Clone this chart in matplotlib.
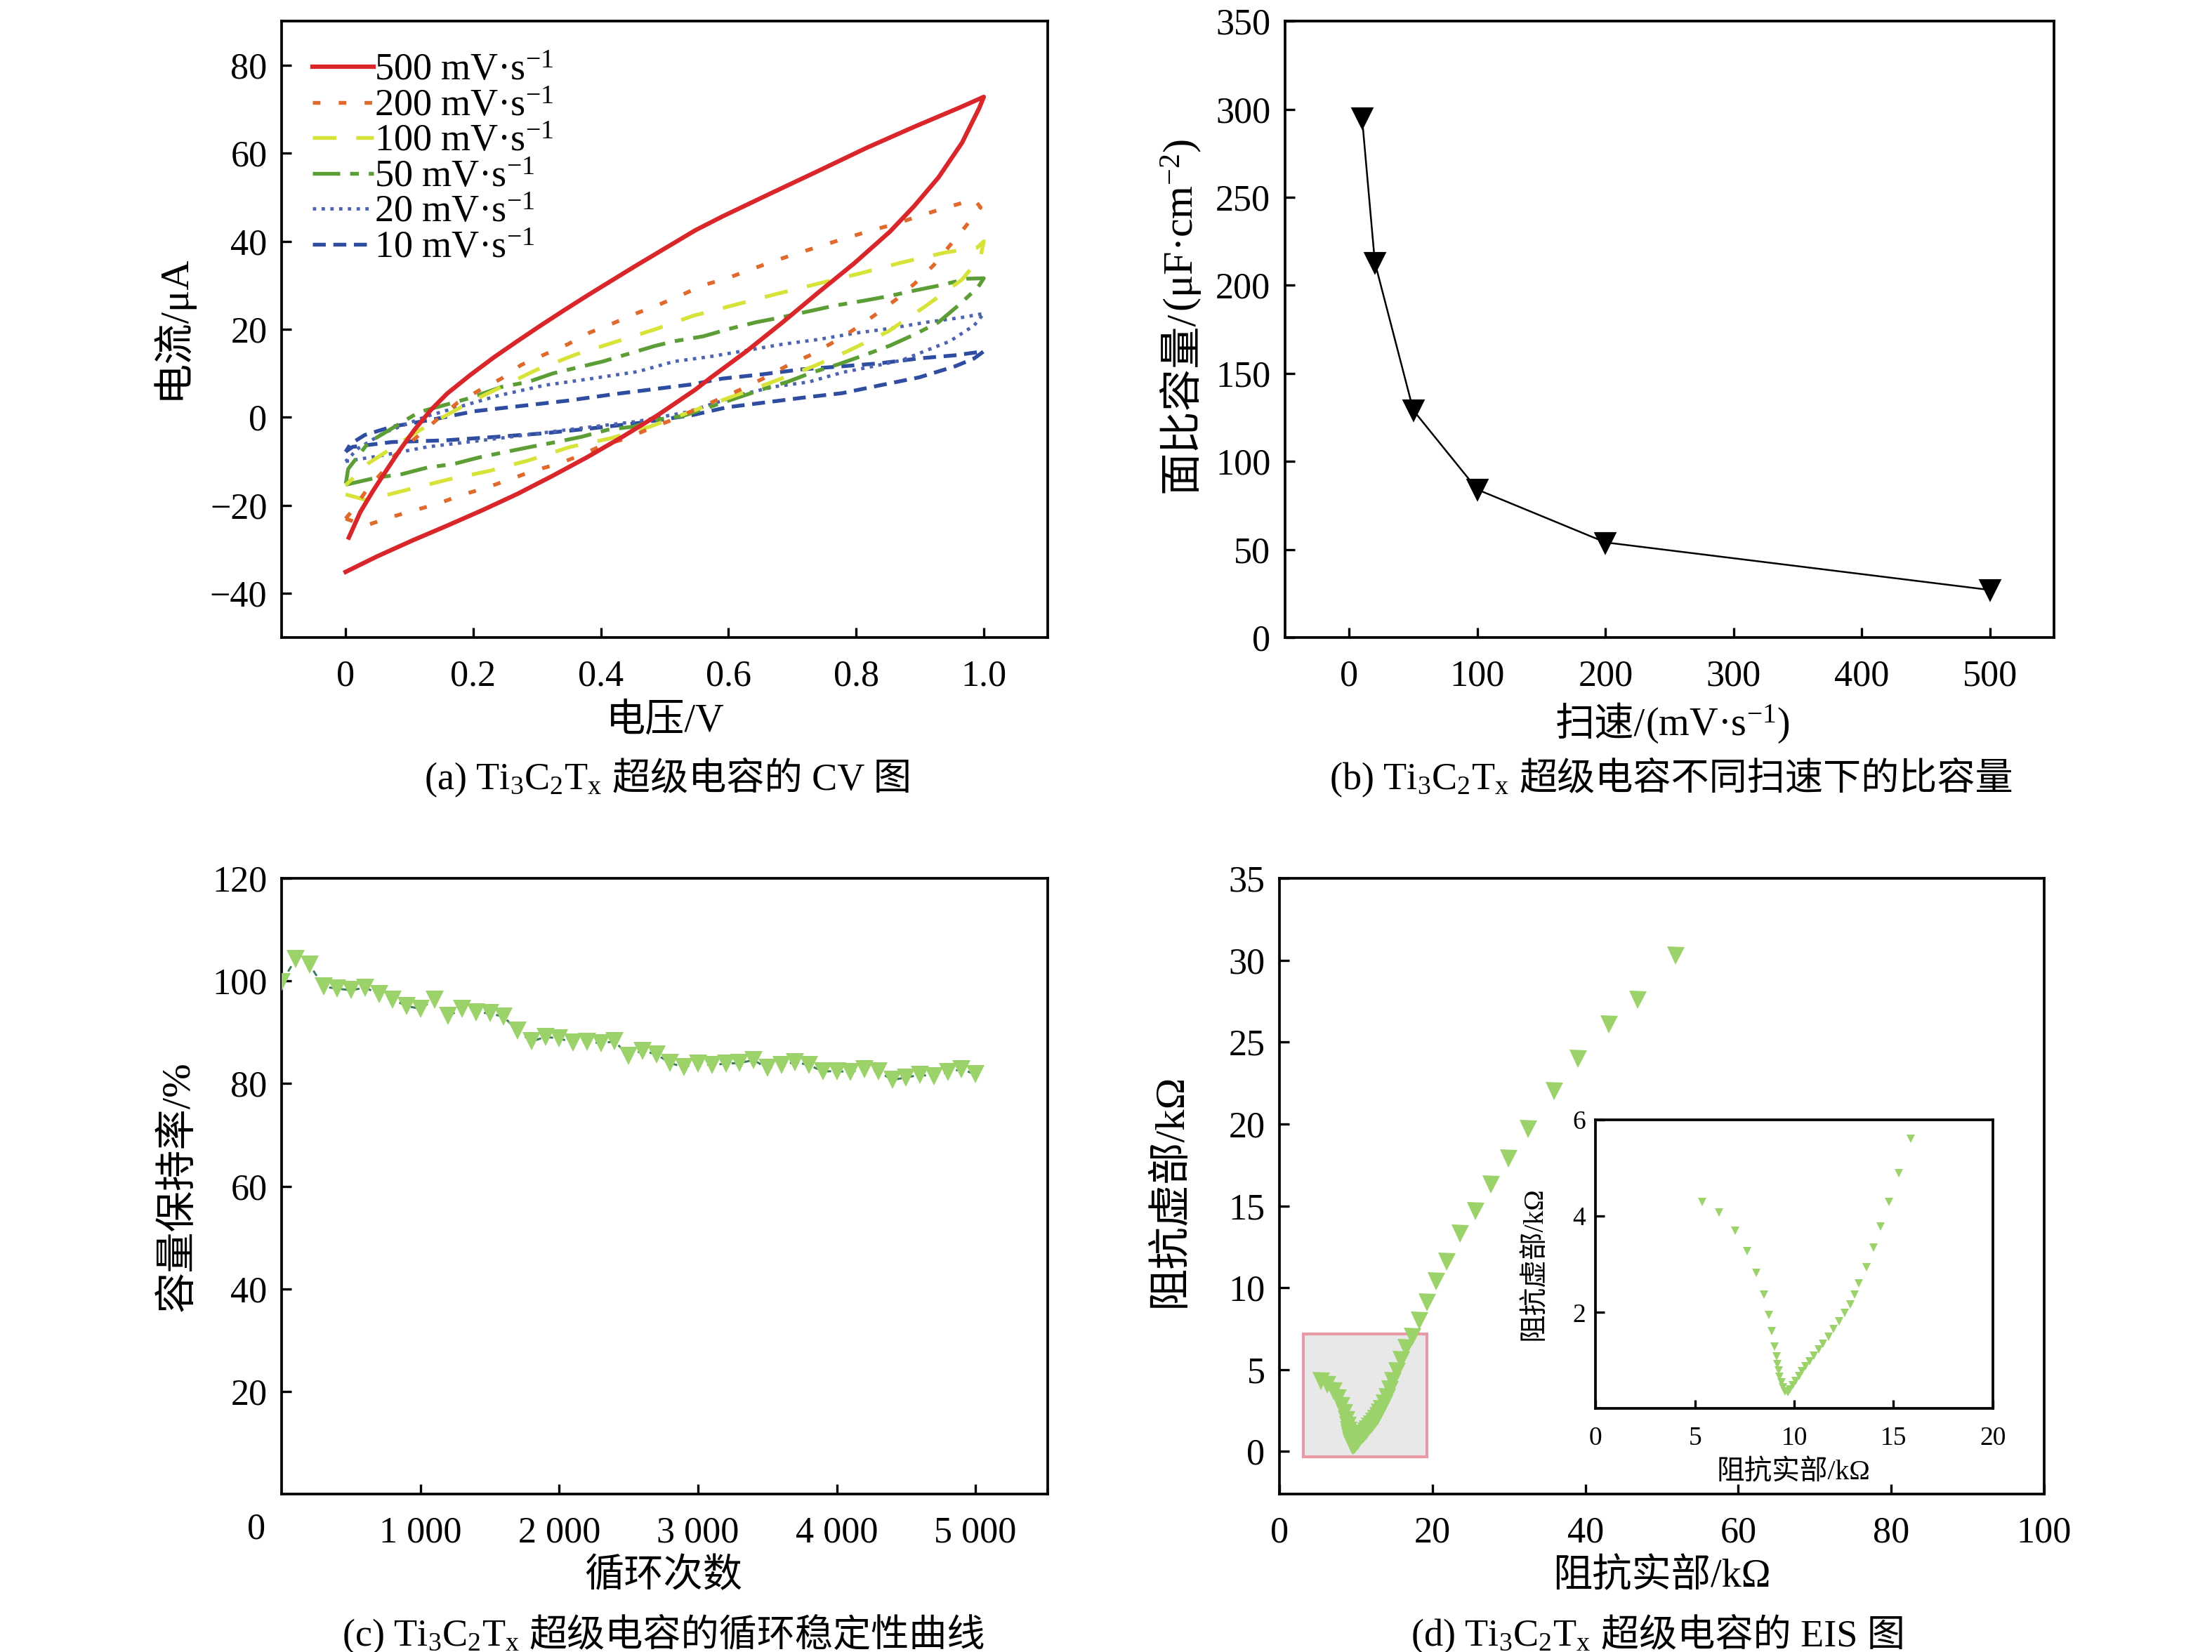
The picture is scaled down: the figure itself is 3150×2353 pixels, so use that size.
import matplotlib
matplotlib.use('Agg')
import matplotlib.pyplot as plt
from matplotlib.patches import Rectangle
from matplotlib.ticker import FixedLocator, FixedFormatter

# ---------------- data ----------------
# (a) CV curves: forward (lower) branch then reverse (upper) branch
cv_labels = ['500 mV·s$^{-1}$', '200 mV·s$^{-1}$', '100 mV·s$^{-1}$',
             '50 mV·s$^{-1}$', '20 mV·s$^{-1}$', '10 mV·s$^{-1}$']
cv500_x = [0.0, 0.049, 0.104, 0.159, 0.214, 0.269, 0.324, 0.379, 0.434, 0.489, 0.548, 0.571,
           0.628, 0.684, 0.741, 0.797, 0.853, 0.891, 0.929, 0.966, 0.993, 1.0,
           0.966, 0.891, 0.816, 0.741, 0.665, 0.590, 0.548, 0.489, 0.452, 0.416, 0.379, 0.342,
           0.306, 0.269, 0.232, 0.196, 0.159, 0.133, 0.108, 0.086, 0.064, 0.042, 0.023, 0.005]
cv500_y = [-35.1, -31.6, -28.0, -24.6, -21.1, -17.4, -13.3, -9.0, -4.4, 0.5, 6.3, 8.9,
           15.0, 21.5, 28.4, 35.0, 42.2, 48.0, 54.5, 62.4, 70.3, 72.8,
           70.6, 66.0, 61.2, 56.0, 50.8, 45.6, 42.5, 37.4, 34.2, 31.0, 27.7, 24.3,
           20.9, 17.3, 13.6, 9.7, 5.4, 1.6, -2.8, -7.2, -12.0, -16.9, -21.5, -27.3]
cv200_x = [0.0, 0.031, 0.070, 0.108, 0.145, 0.182, 0.218, 0.257, 0.293, 0.332, 0.367, 0.403,
           0.440, 0.477, 0.513, 0.617, 0.654, 0.690, 0.726, 0.761, 0.795, 0.829, 0.861, 0.891,
           0.921, 0.970, 0.995,
           0.985, 0.940, 0.902, 0.865, 0.825, 0.788, 0.748, 0.711, 0.673, 0.635, 0.598, 0.560,
           0.528, 0.491, 0.455, 0.418, 0.383, 0.348, 0.312, 0.275, 0.244, 0.209, 0.176, 0.143,
           0.112, 0.077, 0.059, 0.033, 0.011, 0.0]
cv200_y = [-23.0, -24.6, -22.7, -21.1, -19.6, -17.6, -16.1, -14.1, -12.2, -10.6, -8.7, -6.3,
           -4.8, -2.5, -0.5, 6.2, 8.8, 11.6, 14.0, 16.8, 19.8, 23.2, 26.6, 30.3,
           34.5, 43.1, 47.7,
           49.5, 47.6, 45.9, 44.1, 42.5, 40.9, 39.1, 37.4, 35.6, 33.6, 31.6, 30.0,
           27.9, 25.6, 23.6, 21.3, 19.3, 16.6, 14.3, 11.9, 8.8, 6.1, 3.4, -0.5,
           -4.4, -8.6, -12.2, -16.5, -21.1, -23.0]
cv100_x = [0.0, 0.033, 0.095, 0.161, 0.224, 0.286, 0.352, 0.414, 0.477, 0.535, 0.669, 0.733,
           0.789, 0.850, 0.908, 0.966, 0.995, 1.0,
           0.99, 0.938, 0.872, 0.806, 0.741, 0.677, 0.611, 0.545, 0.487, 0.424, 0.361, 0.299,
           0.238, 0.195, 0.115, 0.036, 0.0]
cv100_y = [-17.5, -18.8, -16.5, -14.1, -12.2, -9.8, -6.7, -4.8, -2.1, 1.0, 8.05, 11.6,
           15.2, 19.5, 25.2, 31.3, 36.5, 40.0,
           38.6, 37.4, 35.2, 32.7, 30.4, 28.1, 25.6, 23.1, 20.1, 17.2, 14.3, 10.8,
           6.5, 3.5, -3.0, -10.4, -15.4]
cv50_x = [0.0, 0.048, 0.088, 0.128, 0.169, 0.209, 0.249, 0.290, 0.330, 0.370, 0.411, 0.451,
          0.488, 0.528, 0.658, 0.692, 0.731, 0.771, 0.812, 0.853, 0.891, 0.929, 0.964, 0.991, 1.0,
          0.974, 0.932, 0.891, 0.850, 0.808, 0.767, 0.726, 0.682, 0.643, 0.601, 0.560, 0.515,
          0.484, 0.403, 0.325, 0.286, 0.244, 0.195, 0.115, 0.036, 0.004, 0.0]
cv50_y = [-15.3, -13.7, -12.9, -11.4, -10.6, -9.1, -7.9, -6.7, -5.6, -4.4, -2.8, -2.1,
          -0.5, 0.3, 6.6, 8.05, 10.2, 12.0, 14.1, 16.3, 18.8, 21.6, 25.9, 29.6, 31.6,
          31.5, 30.0, 28.8, 27.5, 26.4, 25.4, 24.1, 22.7, 21.6, 20.1, 18.4, 17.3,
          16.2, 12.7, 10.0, 8.05, 6.9, 4.4, 1.2, -5.7, -11.7, -15.3]
cv20_x = [0.0, 0.055, 0.128, 0.238, 0.348, 0.458, 0.535, 0.620, 0.673, 0.726, 0.778, 0.827,
          0.872, 0.910, 0.947, 0.985, 1.0,
          0.966, 0.910, 0.853, 0.797, 0.741, 0.684, 0.628, 0.571, 0.515, 0.458, 0.385, 0.312,
          0.238, 0.128, 0.06, 0.02, 0.0]
cv20_y = [-10.0, -8.7, -6.7, -4.8, -2.8, -0.9, 1.2, 5.2, 7.0, 8.05, 10.2, 11.6,
          13.0, 15.2, 17.3, 20.9, 23.6,
          22.7, 21.6, 20.2, 19.1, 17.7, 16.6, 15.2, 13.8, 12.7, 10.4, 8.8, 7.3,
          4.9, 0.3, -3.5, -7.0, -10.0]
cv10_x = [0.0, 0.011, 0.073, 0.158, 0.238, 0.312, 0.385, 0.458, 0.543, 0.598, 0.658, 0.718,
          0.778, 0.838, 0.899, 0.955, 0.985, 1.0,
          0.955, 0.899, 0.838, 0.778, 0.714, 0.654, 0.590, 0.543, 0.488, 0.422, 0.348, 0.275,
          0.202, 0.136, 0.073, 0.03, 0.008, 0.0]
cv10_y = [-7.8, -6.7, -5.6, -5.2, -4.4, -3.6, -2.5, -1.3, 0.5, 2.3, 3.4, 4.5,
          5.5, 7.3, 9.1, 11.6, 13.4, 15.0,
          14.1, 13.4, 12.3, 11.6, 10.9, 9.8, 8.8, 7.5, 6.5, 5.3, 3.8, 2.6,
          1.4, -0.5, -2.1, -4.0, -6.0, -7.8]

# (b) areal capacitance vs scan rate
scan_rate = [10, 20, 50, 100, 200, 500]
capacitance = [295, 213, 129, 84, 54, 27]

# (c) cycling stability
cycles = [0, 100, 200, 300, 400, 500, 600, 700, 800, 900, 1000, 1100, 1200, 1300, 1400, 1500,
          1600, 1700, 1800, 1900, 2000, 2100, 2200, 2300, 2400, 2500, 2600, 2700, 2800, 2900,
          3000, 3100, 3200, 3300, 3400, 3500, 3600, 3700, 3800, 3900, 4000, 4100, 4200, 4300,
          4400, 4500, 4600, 4700, 4800, 4900, 5000]
retention = [99.8, 104.3, 103.2, 98.9, 98.5, 98.2, 98.7, 97.5, 96.4, 95.1, 94.6, 96.4, 93.2,
             94.6, 93.9, 93.7, 93.0, 90.3, 88.2, 89.1, 88.8, 88.0, 88.1, 87.9, 88.2, 85.4, 86.4,
             85.7, 84.0, 83.2, 83.9, 83.6, 83.9, 84.0, 84.6, 83.0, 83.6, 84.2, 83.6, 82.4, 82.4,
             82.3, 82.8, 82.4, 80.7, 81.2, 81.7, 81.4, 82.2, 82.8, 81.8]

# (d) EIS (Nyquist)
z_real = [5.35, 6.21, 7.02, 7.62, 8.09, 8.46, 8.72, 8.88, 9.01, 9.11, 9.16, 9.22, 9.27, 9.35,
          9.43, 9.53, 9.66, 9.79, 9.92, 10.08, 10.23, 10.39, 10.57, 10.78, 10.99, 11.23, 11.46,
          11.72, 11.98, 12.25, 12.53, 12.82, 13.05, 13.26, 13.63, 14.00, 14.36, 14.78, 15.27,
          15.85, 16.5, 17.3, 18.3, 19.3, 20.5, 21.8, 23.6, 25.6, 27.6, 29.9, 32.5, 35.9, 39.0,
          43.1, 46.8, 51.8]
z_imag = [4.29, 4.07, 3.70, 3.27, 2.82, 2.37, 1.94, 1.61, 1.29, 1.08, 0.93, 0.79, 0.66, 0.55,
          0.45, 0.36, 0.34, 0.40, 0.49, 0.58, 0.68, 0.78, 0.88, 0.99, 1.10, 1.23, 1.35, 1.50,
          1.65, 1.82, 1.99, 2.16, 2.37, 2.60, 2.94, 3.34, 3.78, 4.29, 4.90, 5.61, 6.3, 7.0, 8.0,
          9.1, 10.4, 11.6, 13.3, 14.7, 16.3, 17.9, 19.7, 22.0, 24.0, 26.1, 27.6, 30.3]

# ---------------- style ----------------
plt.rcParams['font.family'] = ['Liberation Serif', 'Noto Sans CJK SC']
plt.rcParams['mathtext.fontset'] = 'custom'
plt.rcParams['mathtext.rm'] = 'Liberation Serif'
plt.rcParams['mathtext.it'] = 'Liberation Serif:italic'
plt.rcParams['mathtext.bf'] = 'Liberation Serif:bold'
plt.rcParams['axes.unicode_minus'] = True

FAM = ['Liberation Serif', 'Noto Sans CJK SC']
W, H, DPI = 3150, 2353, 300
fig = plt.figure(figsize=(W / DPI, H / DPI), dpi=DPI)
TICK_FS = 12.5
XLAB_FS = 13.5
YLAB_FS = 14
CAP_FS = 13
GREEN = '#9bd36a'


def style(ax, fs=TICK_FS, xpad=7.5, ypad=5, length=3.4):
    ax.tick_params(direction='in', length=length, width=0.8, labelsize=fs,
                   top=False, right=False)
    ax.tick_params(axis='x', pad=xpad)
    ax.tick_params(axis='y', pad=ypad)
    for s in ax.spines.values():
        s.set_linewidth(0.9)


def ftext(x, y, s, fs=XLAB_FS, rot=0, **kw):
    # x, y in image pixel coordinates (y down), centered
    fig.text(x / W, 1 - y / H, s, fontsize=fs, rotation=rot, ha='center',
             va='center', family=FAM, **kw)


renderer = fig.canvas.get_renderer()


def rich(cx, cy, pieces, fs=CAP_FS, rot=0):
    """pieces: list of (string, gap_px_before). Centered at (cx, cy) image px."""
    texts, widths = [], []
    for s, gap in pieces:
        t = fig.text(0, 0, s, fontsize=fs, family=FAM, ha='left', va='baseline',
                     rotation=0, rotation_mode='anchor')
        w = t.get_window_extent(renderer).width
        texts.append(t)
        widths.append((w, gap))
    total = sum(w + g for w, g in widths)
    boff = 0.36 * fs * DPI / 72
    pos = -total / 2
    for t, (w, g) in zip(texts, widths):
        pos += g
        if rot == 0:
            x = cx + pos
            y = H - (cy + boff)
        else:
            x = cx + boff
            y = (H - cy) + pos
        t.set_position((x / W, y / H))
        t.set_rotation(rot)
        pos += w


# ---------------- (a) ----------------
axa = fig.add_axes([0.1274, 0.6141, 0.3462, 0.3731])
style(axa)
cv_sets = [(cv500_x, cv500_y, '#d9262b', '-', 1.5),
           (cv200_x, cv200_y, '#e06a2c', (0, (2.0, 4.8)), 1.3),
           (cv100_x, cv100_y, '#d8e33a', (0, (6.2, 5.2)), 1.3),
           (cv50_x, cv50_y, '#5c9e35', (0, (7.2, 2.6, 2.3, 2.6)), 1.3),
           (cv20_x, cv20_y, '#4d63b0', (0, (1.0, 1.6)), 1.15),
           (cv10_x, cv10_y, '#2e4da0', (0, (3.4, 2.0)), 1.3)]
handles = []
for i, (xs, ys, c, ls, lw) in enumerate(cv_sets):
    ln, = axa.plot(xs, ys, color=c, ls=ls, lw=lw, zorder=10 - i, label=cv_labels[i])
    handles.append(ln)
axa.set_xlim(-0.1, 1.1)
axa.set_ylim(-50, 90)
axa.xaxis.set_major_locator(FixedLocator([0, 0.2, 0.4, 0.6, 0.8, 1.0]))
axa.xaxis.set_major_formatter(FixedFormatter(['0', '0.2', '0.4', '0.6', '0.8', '1.0']))
axa.set_yticks([-40, -20, 0, 20, 40, 60, 80])
leg = axa.legend(handles=handles, loc='upper left', bbox_to_anchor=(0.04, 0.948),
                 frameon=False, fontsize=13, handlelength=1.6, handletextpad=0.03,
                 labelspacing=0.0, borderpad=0, borderaxespad=0)

ftext(947, 1028, '电压/V')
ftext(243, 466, '电流/μA', fs=YLAB_FS, rot=90)
rich(951, 1105, [('(a) Ti$_3$C$_2$T$_\\mathrm{x}$', 0), ('超级电容的 CV 图', 14)])

# ---------------- (b) ----------------
axb = fig.add_axes([0.5810, 0.6141, 0.3476, 0.3731])
style(axb)
axb.plot(scan_rate, capacitance, color='black', lw=0.6, marker='v', ms=6.2,
         mfc='black', mec='black')
axb.set_xlim(-50, 550)
axb.set_ylim(0, 350)
axb.set_xticks([0, 100, 200, 300, 400, 500])
axb.set_yticks([0, 50, 100, 150, 200, 250, 300, 350])
rich(2382, 1028, [('扫速/', 0), ('(mV·s$^{-1}$)', 0)], fs=XLAB_FS)
rich(1678, 450, [('面比容量/', 0), ('(μF·cm$^{-2}$)', 0)], fs=YLAB_FS + 0.5, rot=90)
rich(2380, 1105, [('(b) Ti$_3$C$_2$T$_\\mathrm{x}$', 0), ('超级电容不同扫速下的比容量', 14)])

# ---------------- (c) ----------------
axc = fig.add_axes([0.1274, 0.0956, 0.3462, 0.3727])
style(axc)
axc.plot(cycles, retention, color='#3d7a5a', lw=0.7, ls=(0, (3, 3)), zorder=2)
axc.plot(cycles, retention, ls='none', marker='v', ms=6.2, mfc=GREEN, mec='none', zorder=3)
axc.set_xlim(0, 5520)
axc.set_ylim(0, 120)
axc.xaxis.set_major_locator(FixedLocator([1000, 2000, 3000, 4000, 5000]))
axc.xaxis.set_major_formatter(FixedFormatter(['1 000', '2 000', '3 000', '4 000', '5 000']))
axc.set_yticks([20, 40, 60, 80, 100, 120])
fig.text(365 / W, 1 - 2179 / H, '0', fontsize=TICK_FS, ha='center', va='center', family=FAM)
ftext(945, 2246, '循环次数')
ftext(253, 1690, '容量保持率/%', fs=YLAB_FS, rot=90)
rich(945, 2325, [('(c) Ti$_3$C$_2$T$_\\mathrm{x}$', 0), ('超级电容的循环稳定性曲线', 14)])

# ---------------- (d) ----------------
axd = fig.add_axes([0.5785, 0.0956, 0.3456, 0.3727])
style(axd)
axd.add_patch(Rectangle((3.1, -0.32), 16.2, 7.5, facecolor='#e8e8e8',
                        edgecolor='#e89aa8', lw=1.0, zorder=1))
axd.plot(z_real, z_imag, ls='none', marker='v', ms=6.0, mfc=GREEN, mec='none', zorder=3)
axd.set_xlim(0, 100)
axd.set_ylim(-2.6, 35)
axd.set_xticks([0, 20, 40, 60, 80, 100])
axd.set_yticks([0, 5, 10, 15, 20, 25, 30, 35])
ftext(2366, 2246, '阻抗实部/kΩ')
ftext(1666, 1695, '阻抗虚部/kΩ', fs=YLAB_FS + 0.5, rot=90)
rich(2361, 2325, [('(d) Ti$_3$C$_2$T$_\\mathrm{x}$', 0), ('超级电容的 EIS 图', 14)])

# inset
axi = fig.add_axes([0.7214, 0.1473, 0.1795, 0.1748])
style(axi, fs=9, xpad=6, ypad=3.5, length=3.0)
axi.plot(z_real, z_imag, ls='none', marker='v', ms=3.0, mfc=GREEN, mec='none')
axi.set_xlim(0, 20)
axi.set_ylim(0, 6)
axi.set_xticks([0, 5, 10, 15, 20])
axi.set_yticks([2, 4, 6])
ftext(2554, 2098, '阻抗实部/kΩ', fs=9.5)
ftext(2185, 1800, '阻抗虚部/kΩ', fs=9.5, rot=90)

fig.savefig('out.png', dpi=DPI)
